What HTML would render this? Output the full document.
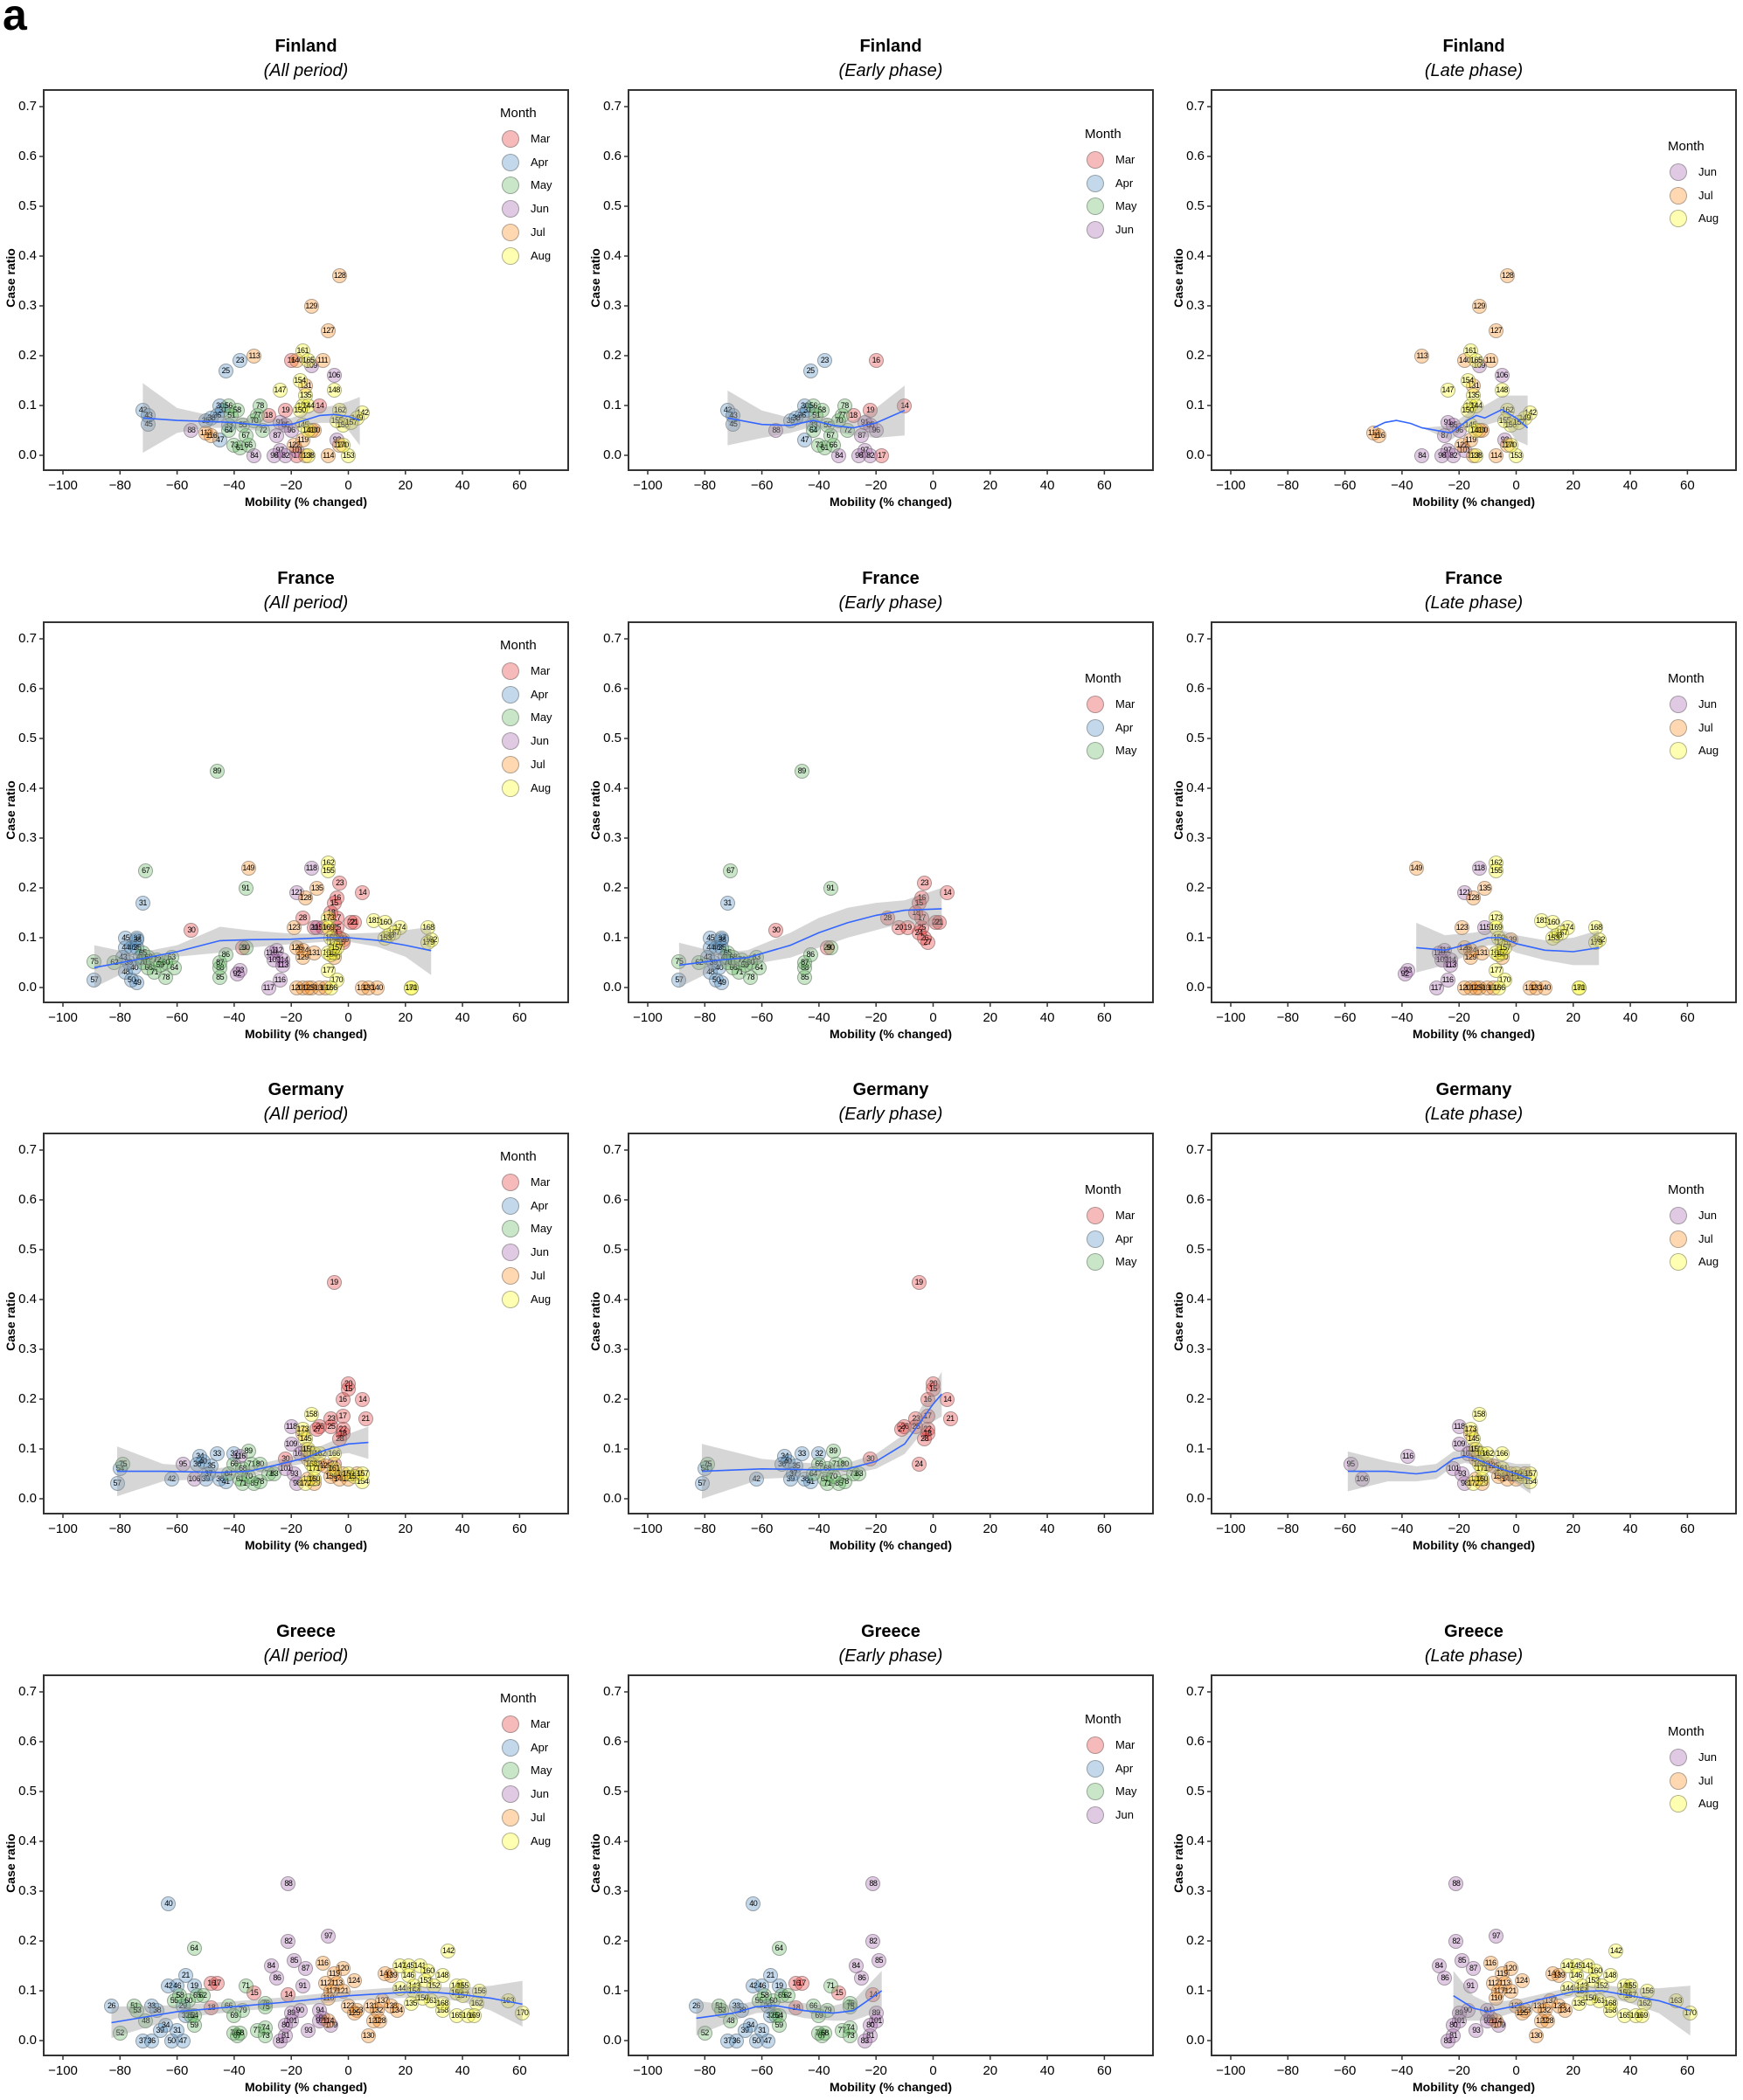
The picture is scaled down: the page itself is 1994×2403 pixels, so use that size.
<!DOCTYPE html>
<html><head><meta charset="utf-8">
<style>
html,body{margin:0;padding:0;background:#fff;}
#root{position:relative;width:1994px;height:2403px;overflow:hidden;font-family:"Liberation Sans",Arial,sans-serif;color:#000;}
.pan{position:absolute;width:665px;height:600px;}
.box{position:absolute;left:49px;top:102px;width:598px;height:433px;border:2px solid #333;}
.t1{position:absolute;left:0;width:700px;text-align:center;font-weight:bold;font-size:20px;top:42px;}
.t2{position:absolute;left:0;width:700px;text-align:center;font-style:italic;font-size:20px;top:70px;}
.yl{position:absolute;width:40px;text-align:right;left:2px;font-size:15px;line-height:16px;}
.xl{position:absolute;width:50px;text-align:center;font-size:15px;top:547px;}
.xt{position:absolute;left:100px;width:500px;text-align:center;font-weight:bold;font-size:14px;top:566px;}
.yt{position:absolute;left:-38px;top:310px;width:100px;text-align:center;font-weight:bold;font-size:14px;transform:rotate(-90deg);}
.pt{position:absolute;width:15px;height:15px;border-radius:50%;margin:-8.5px 0 0 -8.5px;border:1px solid rgba(100,100,100,.5);font-size:9px;line-height:15px;text-align:center;letter-spacing:-0.5px;overflow:visible;white-space:nowrap;}
.lg{position:absolute;width:18px;height:18px;border-radius:50%;margin:-10px 0 0 -10px;border:1px solid rgba(100,100,100,.5);}
.lt{position:absolute;font-size:13px;line-height:14px;}
.lm{position:absolute;font-size:15px;line-height:16px;}
.m3{background:rgba(228,26,28,.3)}.m4{background:rgba(55,126,184,.3)}.m5{background:rgba(77,175,74,.3)}
.m6{background:rgba(152,78,163,.3)}.m7{background:rgba(255,127,0,.3)}.m8{background:rgba(255,255,51,.38)}
svg{position:absolute;left:0;top:0;}
</style></head><body>
<div id="root"><div style="position:absolute;left:3px;top:-12px;font-size:50px;font-weight:bold;">a</div></div>
<script>
var D={
Finland:{
3:[[-28,0.08,18],[-10,0.1,14],[-20,0.19,16],[-18,0.0,17],[-22,0.09,19]],
4:[[-72,0.09,42],[-70,0.08,43],[-70,0.063,45],[-43,0.17,25],[-38,0.19,23],[-45,0.1,30],[-44,0.09,31],[-46,0.08,36],[-50,0.07,35],[-45,0.03,47],[-42,0.06,33],[-48,0.075,38]],
5:[[-42,0.1,56],[-39,0.09,58],[-40,0.02,73],[-38,0.015,61],[-35,0.02,66],[-36,0.04,67],[-31,0.1,78],[-32,0.08,77],[-30,0.05,72],[-42,0.05,64],[-37,0.06,55],[-33,0.07,70],[-41,0.08,51]],
6:[[-55,0.05,88],[-33,0.0,84],[-24,0.065,91],[-22,0.06,85],[-25,0.04,87],[-24,0.01,97],[-22,0.0,82],[-26,0.0,98],[-13,0.18,109],[-5,0.16,106],[-4,0.03,92],[-18,0.01,101],[-20,0.05,96]],
7:[[-33,0.2,113],[-50,0.045,112],[-48,0.04,116],[-3,0.36,128],[-13,0.3,129],[-7,0.25,127],[-9,0.19,111],[-15,0.14,131],[-18,0.19,140],[-19,0.02,122],[-13,0.05,120],[-12,0.05,130],[-7,0.0,114],[-3,0.02,124],[-15,0.0,123],[-16,0.03,119]],
8:[[-16,0.21,161],[-14,0.19,165],[-17,0.15,154],[-24,0.13,147],[-5,0.13,148],[-15,0.12,135],[-16,0.1,159],[-14,0.1,144],[-17,0.09,150],[-3,0.09,162],[5,0.085,142],[3,0.075,149],[-4,0.07,155],[-2,0.06,156],[0,0.0,153],[-14,0.0,138],[-16,0.06,145],[-14,0.05,141],[1,0.065,157],[-2,0.02,170]]},
France:{
3:[[-55,0.115,30],[-37,0.08,29],[-16,0.14,28],[-3,0.21,23],[5,0.19,14],[-4,0.18,16],[-5,0.17,15],[-6,0.15,18],[-4,0.14,17],[1,0.13,22],[2,0.13,21],[-4,0.12,25],[-5,0.11,24],[-9,0.12,19],[-3,0.1,26],[-2,0.09,27],[-12,0.12,20]],
4:[[-78,0.1,45],[-74,0.1,37],[-74,0.095,38],[-72,0.17,31],[-78,0.08,44],[-76,0.08,46],[-74,0.08,35],[-79,0.06,43],[-77,0.05,39],[-78,0.03,48],[-76,0.015,50],[-74,0.01,49],[-89,0.015,57],[-73,0.06,41],[-75,0.04,40]],
5:[[-71,0.235,67],[-36,0.2,91],[-46,0.435,89],[-89,0.052,75],[-82,0.05,62],[-72,0.07,65],[-70,0.04,66],[-68,0.03,71],[-64,0.02,78],[-62,0.06,63],[-61,0.04,64],[-64,0.05,60],[-66,0.045,59],[-45,0.02,85],[-45,0.04,88],[-45,0.05,87],[-43,0.065,86],[-36,0.08,90],[-72,0.05,70],[-70,0.06,68],[-67,0.055,72]],
6:[[-38,0.035,93],[-39,0.027,92],[-24,0.015,116],[-27,0.07,110],[-25,0.075,112],[-26,0.055,109],[-23,0.055,114],[-23,0.045,113],[-13,0.24,118],[-18,0.19,121],[-11,0.12,115],[-28,0.0,117]],
7:[[-35,0.24,149],[-11,0.2,135],[-15,0.18,128],[-19,0.12,123],[-16,0.075,124],[-18,0.08,126],[-16,0.06,129],[-12,0.07,131],[-16,0.0,127],[-13,0.0,130],[-10,0.0,136],[-8,0.0,132],[5,0.0,132],[7,0.0,133],[10,0.0,140],[-2,0.095,139],[-5,0.06,150],[-18,0.0,120],[-14,0.0,125]],
8:[[-7,0.25,162],[-7,0.235,155],[-7,0.14,173],[-7,0.12,169],[-6,0.1,159],[-5,0.09,175],[-7,0.07,151],[-6,0.065,154],[-7,0.035,177],[-4,0.015,170],[-5,0.07,152],[9,0.135,181],[13,0.13,160],[18,0.12,174],[16,0.11,167],[14,0.105,143],[13,0.1,153],[28,0.12,168],[29,0.095,182],[28,0.09,179],[22,0.0,180],[22,0.0,171],[-6,0.0,166],[-4,0.08,157]]},
Germany:{
3:[[-5,0.435,19],[0,0.23,20],[0,0.22,15],[-2,0.2,16],[5,0.2,14],[-2,0.165,17],[6,0.16,21],[-6,0.16,23],[-10,0.145,26],[-11,0.14,27],[-6,0.145,25],[-2,0.14,22],[-2,0.13,18],[-22,0.08,30],[-5,0.07,24],[-3,0.12,28]],
4:[[-81,0.03,57],[-80,0.06,54],[-62,0.04,42],[-52,0.085,34],[-53,0.07,36],[-51,0.075,40],[-46,0.09,33],[-40,0.09,32],[-48,0.065,35],[-45,0.04,38],[-50,0.04,39],[-43,0.035,41],[-49,0.05,37]],
5:[[-79,0.07,75],[-35,0.095,89],[-40,0.07,66],[-37,0.06,68],[-34,0.07,71],[-31,0.07,80],[-38,0.04,61],[-37,0.03,71],[-33,0.03,85],[-31,0.035,78],[-28,0.05,73],[-26,0.05,83],[-35,0.045,70],[-42,0.05,64]],
6:[[-58,0.07,95],[-54,0.04,106],[-38,0.085,116],[-20,0.145,118],[-20,0.11,109],[-19,0.05,93],[-18,0.03,98],[-17,0.09,107],[-22,0.06,101],[-15,0.1,103]],
7:[[-16,0.13,127],[-14,0.08,115],[-10,0.07,121],[-8,0.065,125],[-5,0.05,133],[-6,0.045,136],[-3,0.04,140],[-2,0.05,147],[0,0.04,126],[-14,0.04,132],[-12,0.03,129],[3,0.05,137]],
8:[[-13,0.17,158],[-16,0.14,173],[-15,0.12,145],[-14,0.1,150],[-12,0.09,164],[-13,0.07,168],[-15,0.03,172],[-12,0.04,160],[-10,0.09,162],[-5,0.09,166],[-5,0.06,161],[0,0.05,159],[2,0.045,153],[5,0.035,154],[5,0.05,157],[-12,0.06,171]]},
Greece:{
3:[[-48,0.115,16],[-46,0.115,17],[-33,0.095,15],[-21,0.093,14],[-48,0.065,18]],
4:[[-83,0.07,26],[-63,0.275,40],[-57,0.13,21],[-63,0.11,42],[-60,0.11,46],[-54,0.11,19],[-69,0.07,33],[-67,0.06,38],[-72,0.0,37],[-69,0.0,36],[-62,0.0,50],[-58,0.0,47],[-66,0.02,39],[-64,0.03,34],[-60,0.02,31],[-58,0.07,29],[-57,0.05,32]],
5:[[-54,0.185,64],[-80,0.015,52],[-75,0.07,51],[-74,0.06,53],[-71,0.04,48],[-61,0.08,55],[-59,0.09,58],[-56,0.08,60],[-55,0.05,62],[-53,0.09,65],[-51,0.09,62],[-54,0.03,59],[-54,0.05,54],[-42,0.07,66],[-40,0.05,69],[-37,0.06,79],[-36,0.11,71],[-29,0.075,76],[-29,0.068,75],[-40,0.015,70],[-39,0.01,67],[-38,0.015,68],[-32,0.02,77],[-29,0.025,74],[-29,0.01,73]],
6:[[-21,0.315,88],[-7,0.21,97],[-21,0.2,82],[-19,0.16,85],[-27,0.15,84],[-15,0.145,87],[-25,0.125,86],[-16,0.11,91],[-20,0.055,89],[-17,0.06,90],[-20,0.04,101],[-14,0.02,93],[-22,0.01,81],[-24,0.0,83],[-10,0.06,94],[-9,0.045,99],[-6,0.03,109],[-10,0.04,92],[-22,0.03,80]],
7:[[-9,0.155,116],[-2,0.145,120],[-5,0.135,119],[2,0.12,124],[-8,0.115,112],[-4,0.115,113],[-6,0.1,117],[-7,0.085,110],[-2,0.1,121],[0,0.07,122],[3,0.06,123],[2,0.055,125],[8,0.07,131],[10,0.06,132],[9,0.04,127],[11,0.04,128],[7,0.01,130],[12,0.08,137],[15,0.07,138],[17,0.06,134],[13,0.135,140],[15,0.13,139],[-7,0.04,114]],
8:[[35,0.18,142],[18,0.15,147],[21,0.15,145],[25,0.15,141],[28,0.14,160],[33,0.13,148],[21,0.13,146],[27,0.12,153],[23,0.11,143],[30,0.11,152],[18,0.105,144],[23,0.1,154],[38,0.11,149],[40,0.11,155],[38,0.095,159],[40,0.09,157],[46,0.1,156],[45,0.075,162],[56,0.08,163],[61,0.055,170],[33,0.06,158],[38,0.05,165],[42,0.05,166],[44,0.05,169],[29,0.08,161],[33,0.075,168],[26,0.085,150],[22,0.075,135]]}
};
var MN={3:"Mar",4:"Apr",5:"May",6:"Jun",7:"Jul",8:"Aug"};
var C={
"Finland0":[[-72,0.075,0.005,0.145],[-60,0.07,0.045,0.095],[-50,0.068,0.055,0.082],[-40,0.066,0.055,0.078],[-30,0.06,0.048,0.072],[-20,0.062,0.05,0.075],[-10,0.08,0.065,0.095],[-5,0.082,0.065,0.1],[0,0.078,0.05,0.108],[4,0.07,0.02,0.117]],
"Finland1":[[-72,0.075,0.02,0.13],[-60,0.062,0.035,0.09],[-50,0.06,0.045,0.075],[-42,0.07,0.058,0.082],[-35,0.06,0.048,0.072],[-28,0.055,0.04,0.07],[-20,0.065,0.035,0.095],[-10,0.09,0.04,0.14]],
"Finland2":[[-50,0.055,0.055,0.055],[-46,0.066,0.066,0.066],[-42,0.07,0.07,0.07],[-37,0.064,0.064,0.064],[-33,0.055,0.055,0.055],[-23,0.045,0.03,0.06],[-17,0.07,0.055,0.085],[-14,0.08,0.065,0.095],[-11,0.075,0.06,0.1],[-5,0.092,0.07,0.12],[0,0.075,0.03,0.12],[4,0.055,0.02,0.12]],
"France0":[[-89,0.04,0.0,0.085],[-75,0.055,0.04,0.068],[-60,0.072,0.062,0.085],[-45,0.094,0.07,0.122],[-35,0.096,0.08,0.115],[-20,0.097,0.087,0.108],[-8,0.1,0.092,0.108],[0,0.1,0.092,0.108],[10,0.095,0.082,0.11],[20,0.085,0.062,0.115],[29,0.074,0.025,0.122]],
"France1":[[-89,0.045,0.0,0.09],[-75,0.055,0.04,0.07],[-65,0.06,0.045,0.075],[-50,0.085,0.06,0.11],[-40,0.11,0.08,0.14],[-30,0.13,0.1,0.16],[-20,0.145,0.115,0.17],[-10,0.155,0.13,0.175],[3,0.158,0.12,0.2]],
"France2":[[-35,0.08,0.03,0.13],[-25,0.075,0.045,0.105],[-15,0.09,0.07,0.11],[-10,0.1,0.085,0.115],[-5,0.1,0.085,0.115],[0,0.088,0.07,0.105],[10,0.075,0.055,0.095],[20,0.072,0.045,0.1],[29,0.08,0.045,0.115]],
"Germany0":[[-81,0.055,0.005,0.105],[-65,0.055,0.035,0.07],[-45,0.053,0.042,0.062],[-35,0.055,0.045,0.065],[-25,0.068,0.058,0.078],[-15,0.082,0.072,0.092],[-8,0.098,0.085,0.11],[0,0.11,0.092,0.13],[7,0.113,0.08,0.145]],
"Germany1":[[-81,0.055,0.0,0.11],[-60,0.06,0.04,0.08],[-40,0.058,0.045,0.07],[-30,0.06,0.048,0.072],[-20,0.075,0.06,0.09],[-10,0.11,0.09,0.13],[-5,0.15,0.125,0.175],[0,0.19,0.155,0.225],[3,0.21,0.165,0.255]],
"Germany2":[[-59,0.055,0.015,0.095],[-45,0.055,0.035,0.075],[-35,0.05,0.035,0.065],[-28,0.055,0.04,0.07],[-22,0.08,0.065,0.095],[-18,0.085,0.072,0.098],[-14,0.08,0.068,0.092],[-8,0.065,0.05,0.08],[0,0.05,0.03,0.07],[5,0.04,0.01,0.07]],
"Greece0":[[-83,0.036,0.005,0.068],[-60,0.058,0.045,0.071],[-40,0.068,0.058,0.079],[-20,0.078,0.068,0.088],[0,0.09,0.08,0.1],[20,0.097,0.086,0.108],[30,0.097,0.086,0.108],[40,0.092,0.078,0.106],[50,0.085,0.06,0.11],[61,0.073,0.028,0.12]],
"Greece1":[[-83,0.045,0.01,0.08],[-70,0.055,0.04,0.07],[-62,0.068,0.055,0.08],[-55,0.07,0.058,0.082],[-45,0.06,0.045,0.075],[-35,0.055,0.04,0.07],[-28,0.06,0.04,0.08],[-18,0.1,0.06,0.14]],
"Greece2":[[-22,0.09,0.04,0.14],[-15,0.065,0.04,0.09],[-10,0.058,0.04,0.076],[0,0.07,0.058,0.082],[10,0.085,0.075,0.095],[20,0.098,0.088,0.108],[30,0.1,0.088,0.112],[40,0.09,0.075,0.105],[50,0.08,0.055,0.105],[61,0.06,0.01,0.11]]
};
var countries=["Finland","France","Germany","Greece"];
var subs=["(All period)","(Early phase)","(Late phase)"];
var ox=[0,669,1336], oy=[0,609,1194,1814];
function PX(x){return 72+(x+100)*3.265;}
function PY(y){return 521-570*y;}
var root=document.getElementById("root");
countries.forEach(function(cn,r){
 for(var c=0;c<3;c++){
  var p=document.createElement("div");p.className="pan";
  p.style.left=ox[c]+"px";p.style.top=oy[r]+"px";
  var h='<div class="t1">'+cn+'</div><div class="t2">'+subs[c]+'</div><div class="box"></div>';
  var svg='<svg width="665" height="600">';
  for(var i=0;i<=7;i++){var yy=PY(i/10);svg+='<line x1="45" x2="49" y1="'+yy+'" y2="'+yy+'" stroke="#333" stroke-width="1.5"/>';
    h+='<div class="yl" style="top:'+(yy-8)+'px">'+(i/10).toFixed(1)+'</div>';}
  for(var k=-100;k<=60;k+=20){var xx=PX(k);svg+='<line y1="539" y2="543" x1="'+xx+'" x2="'+xx+'" stroke="#333" stroke-width="1.5"/>';
    h+='<div class="xl" style="left:'+(xx-25)+'px">'+(k<0?'\u2212'+(-k):k)+'</div>';}
  h+='<div class="xt">Mobility (% changed)</div><div class="yt">Case ratio</div>';
  var months;
  if(c==0) months=[3,4,5,6,7,8]; else if(c==2) months=[6,7,8];
  else months=(cn=="Finland"||cn=="Greece")?[3,4,5,6]:[3,4,5];
  var n=months.length, top=n==6?28:(n==4?52:66);
  h+='<div class="lm" style="left:572px;top:'+(102+top-8)+'px">Month</div>';
  months.forEach(function(m,j){var cy=102+top+29+j*26.7;
    h+='<div class="lg m'+m+'" style="left:584px;top:'+cy+'px"></div><div class="lt" style="left:607px;top:'+(cy-7)+'px">'+MN[m]+'</div>';});
  var cv=C[cn+c];
  var up=cv.map(function(q){return PX(q[0]).toFixed(1)+','+PY(q[3]).toFixed(1);});
  var lo=cv.slice().reverse().map(function(q){return PX(q[0]).toFixed(1)+','+PY(q[2]).toFixed(1);});
  var ln=cv.map(function(q){return PX(q[0]).toFixed(1)+','+PY(q[1]).toFixed(1);});
  var pts='';
  months.forEach(function(m){
    D[cn][m].forEach(function(q){
      if(c==1&&m==6&&q[0]>(cn=="Greece"?-18:-20))return;
      if(c==2&&cn=="Finland"&&q[2]==88)return;
      pts+='<div class="pt m'+m+'" style="left:'+PX(q[0]).toFixed(1)+'px;top:'+PY(q[1]).toFixed(1)+'px">'+q[2]+'</div>';
    });
  });
  var svg2='<svg width="665" height="600"><polygon points="'+up.join(' ')+' '+lo.join(' ')+'" fill="rgba(153,153,153,0.4)"/><polyline points="'+ln.join(' ')+'" fill="none" stroke="#3366FF" stroke-width="1.6"/></svg>';
  svg+='</svg>';
  p.innerHTML=svg+h+pts+svg2;
  root.appendChild(p);
 }
});
</script>
</body></html>
